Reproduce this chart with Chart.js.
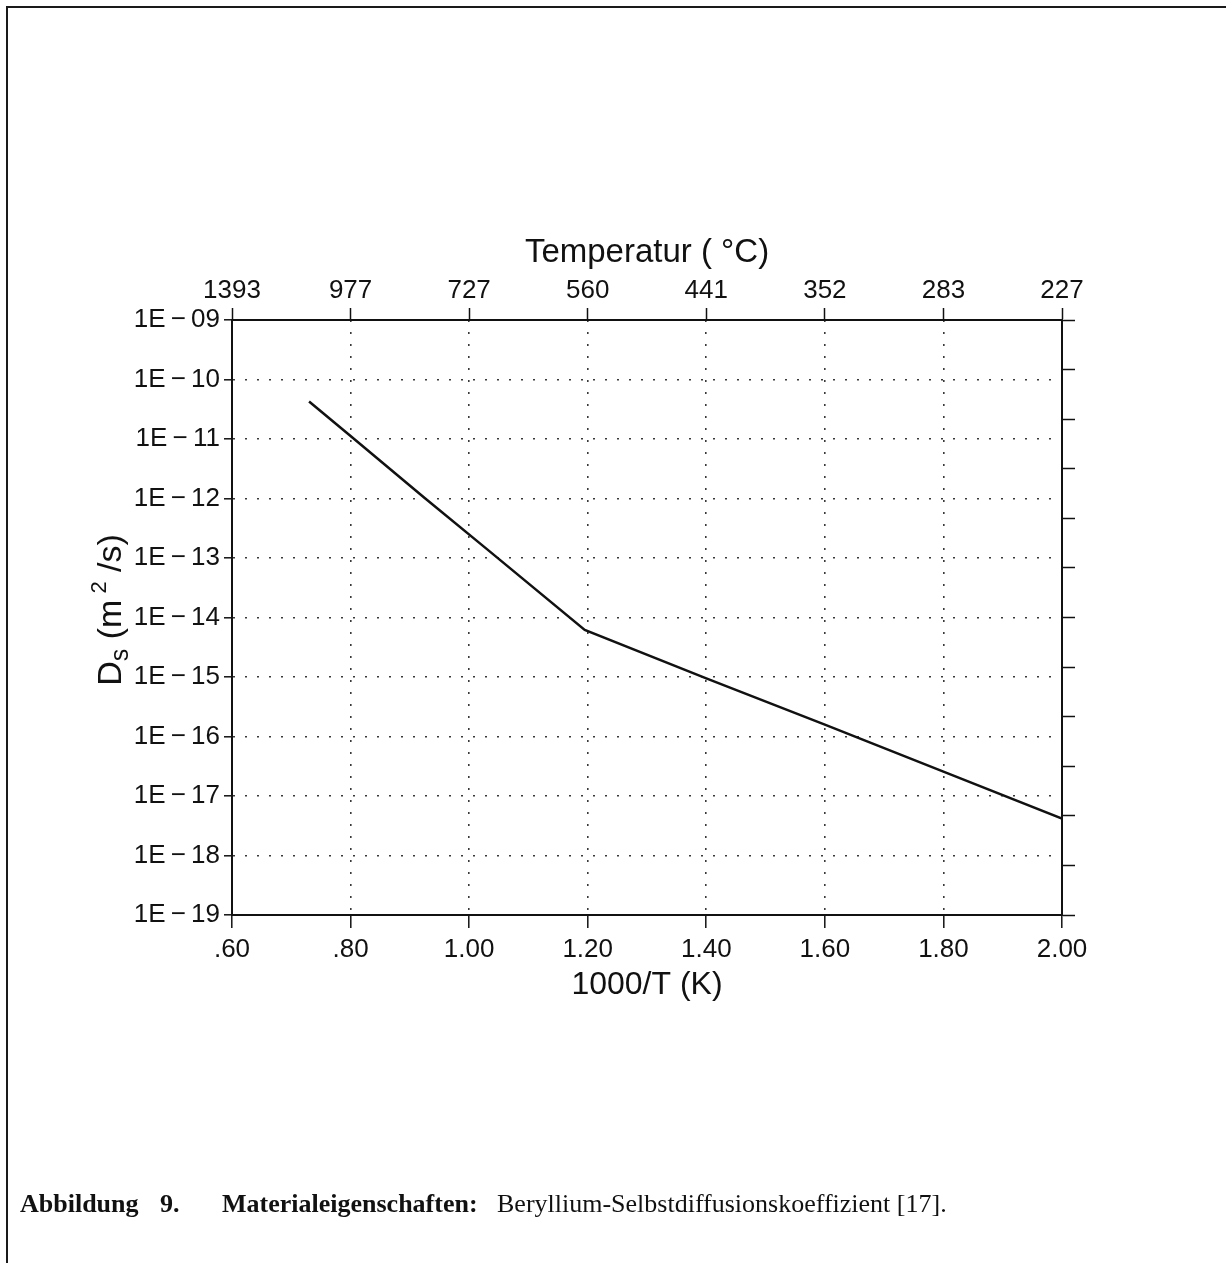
<!DOCTYPE html>
<html>
<head>
<meta charset="utf-8">
<script src="https://cdn.jsdelivr.net/npm/chart.js@4.4.0/dist/chart.umd.min.js"></script>
<style>
  html, body { margin: 0; padding: 0; background: #fff; }
  #page { position: relative; width: 1226px; height: 1263px; overflow: hidden; }
  #frame { position: absolute; left: 6px; top: 6px; width: 1260px; height: 1300px;
           border-left: 2px solid #1a1a1a; border-top: 2px solid #1a1a1a; }
  #chart { position: absolute; left: 0; top: 0; }
  .cap { position: absolute; top: 1189px; font-family: "Liberation Serif", serif; font-size: 26px;
         color: #111; white-space: nowrap; }
</style>
</head>
<body>
<div id="page">
  <div id="frame"></div>
  <canvas id="chart" width="1226" height="1263"></canvas>
  <div class="cap" style="left:20px"><b>Abbildung</b></div>
  <div class="cap" style="left:160px"><b>9.</b></div>
  <div class="cap" style="left:222px"><b>Materialeigenschaften:</b></div>
  <div class="cap" style="left:497px">Beryllium-Selbstdiffusionskoeffizient [17].</div>
</div>
<script>
// 1000/T (1/K) and self-diffusion coefficient D_s (m^2/s)
var invT = [0.73, 0.80, 0.925, 1.03, 1.195, 1.40, 1.60, 1.80, 2.00];
var diffusion = [4.27e-11, 1.12e-11, 1.02e-12, 1.41e-13, 6.17e-15, 9.5e-16, 1.58e-16, 2.57e-17, 4.17e-18];

var xTicks = [0.6, 0.8, 1.0, 1.2, 1.4, 1.6, 1.8, 2.0];
var xLabels = ['.60', '.80', '1.00', '1.20', '1.40', '1.60', '1.80', '2.00'];
var tempLabels = ['1393', '977', '727', '560', '441', '352', '283', '227'];
var yTicks = [1e-9, 1e-10, 1e-11, 1e-12, 1e-13, 1e-14, 1e-15, 1e-16, 1e-17, 1e-18, 1e-19];
var yLabels = ['1E−09', '1E−10', '1E−11', '1E−12', '1E−13', '1E−14', '1E−15', '1E−16', '1E−17', '1E−18', '1E−19'];
var rightTicks = [0, 1, 2, 3, 4, 5, 6, 7, 8, 9, 10, 11, 12];

var FONT = '"Liberation Sans", Arial, sans-serif';
var INK = '#111';

function dotted(n) {
  return function(c) {
    return (c.index === 0 || c.index === n - 1) ? 'rgba(0,0,0,0)' : '#3a3a3a';
  };
}

// y-axis title with subscript / superscript
var yTitle = {
  id: 'yTitle',
  afterDraw: function(chart) {
    var ctx = chart.ctx;
    var parts = [
      { t: 'D', size: 34, dy: 0 },
      { t: 's', size: 25, dy: 9 },
      { t: ' (m', size: 34, dy: 0 },
      { t: ' 2', size: 22, dy: -12 },
      { t: ' /s)', size: 34, dy: 0 }
    ];
    ctx.save();
    ctx.translate(112, 610);
    ctx.rotate(-Math.PI / 2);
    ctx.fillStyle = INK;
    ctx.textBaseline = 'middle';
    ctx.textAlign = 'left';
    var total = 0;
    parts.forEach(function(p) {
      ctx.font = p.size + 'px ' + FONT;
      p.w = ctx.measureText(p.t).width;
      total += p.w;
    });
    var x = -total / 2;
    parts.forEach(function(p) {
      ctx.font = p.size + 'px ' + FONT;
      ctx.fillText(p.t, x, p.dy);
      x += p.w;
    });
    ctx.restore();
  }
};

var ctx = document.getElementById('chart').getContext('2d');
var chart = new Chart(ctx, {
  type: 'line',
  data: {
    datasets: [{
      data: invT.map(function(x, i) { return { x: x, y: diffusion[i] }; }),
      borderColor: INK,
      borderWidth: 2.5,
      pointRadius: 0,
      tension: 0,
      xAxisID: 'x',
      yAxisID: 'y'
    }]
  },
  options: {
    responsive: false,
    animation: false,
    layout: { padding: 0 },
    plugins: { legend: { display: false }, tooltip: { enabled: false } },
    scales: {
      x: {
        type: 'linear', position: 'bottom', min: 0.6, max: 2.0,
        afterBuildTicks: function(s) { s.ticks = xTicks.map(function(v) { return { value: v }; }); },
        afterFit: function(s) { s.height = 348; },
        ticks: {
          callback: function(v, i) { return xLabels[i]; },
          font: { family: FONT, size: 26 }, color: INK, padding: 6,
          maxRotation: 0, autoSkip: false
        },
        grid: {
          color: dotted(xTicks.length), lineWidth: 1.6,
          tickLength: 13, tickColor: INK, tickWidth: 1.5, tickBorderDash: []
        },
        border: { color: INK, width: 2, dash: [2, 10] },
        title: {
          display: true, text: '1000/T (K)', color: INK,
          font: { family: FONT, size: 32 }, padding: { top: 0, bottom: 259 }
        }
      },
      x2: {
        type: 'linear', position: 'top', min: 0.6, max: 2.0,
        afterBuildTicks: function(s) { s.ticks = xTicks.map(function(v) { return { value: v }; }); },
        afterFit: function(s) { s.height = 320; },
        ticks: {
          callback: function(v, i) { return tempLabels[i]; },
          font: { family: FONT, size: 26 }, color: INK, padding: 2,
          maxRotation: 0, autoSkip: false
        },
        grid: {
          drawOnChartArea: false,
          tickLength: 12, tickColor: INK, tickWidth: 1.5, tickBorderDash: []
        },
        border: { color: INK, width: 2 },
        title: {
          display: true, text: 'Temperatur ( °C)', color: INK,
          font: { family: FONT, size: 33 }, padding: { top: 233, bottom: 0 }
        }
      },
      y: {
        type: 'logarithmic', position: 'left', min: 1e-19, max: 1e-9,
        afterBuildTicks: function(s) { s.ticks = yTicks.map(function(v) { return { value: v }; }); },
        afterFit: function(s) { s.width = 232; },
        ticks: {
          callback: function(v, i) { return yLabels[i].replace('−', '\u2009−\u2009'); },
          font: { family: FONT, size: 26 }, color: INK, padding: 4, autoSkip: false
        },
        grid: {
          color: dotted(yTicks.length), lineWidth: 1.6,
          tickLength: 8, tickColor: INK, tickWidth: 1.5, tickBorderDash: []
        },
        border: { color: INK, width: 2, dash: [2, 10] }
      },
      y2: {
        type: 'linear', position: 'right', min: 0, max: 12, reverse: true,
        afterBuildTicks: function(s) { s.ticks = rightTicks.map(function(v) { return { value: v }; }); },
        afterFit: function(s) { s.width = 164; },
        ticks: { display: false },
        grid: {
          drawOnChartArea: false,
          tickLength: 13, tickColor: INK, tickWidth: 1.5, tickBorderDash: []
        },
        border: { color: INK, width: 2 }
      }
    }
  },
  plugins: [yTitle]
});
</script>
</body>
</html>
